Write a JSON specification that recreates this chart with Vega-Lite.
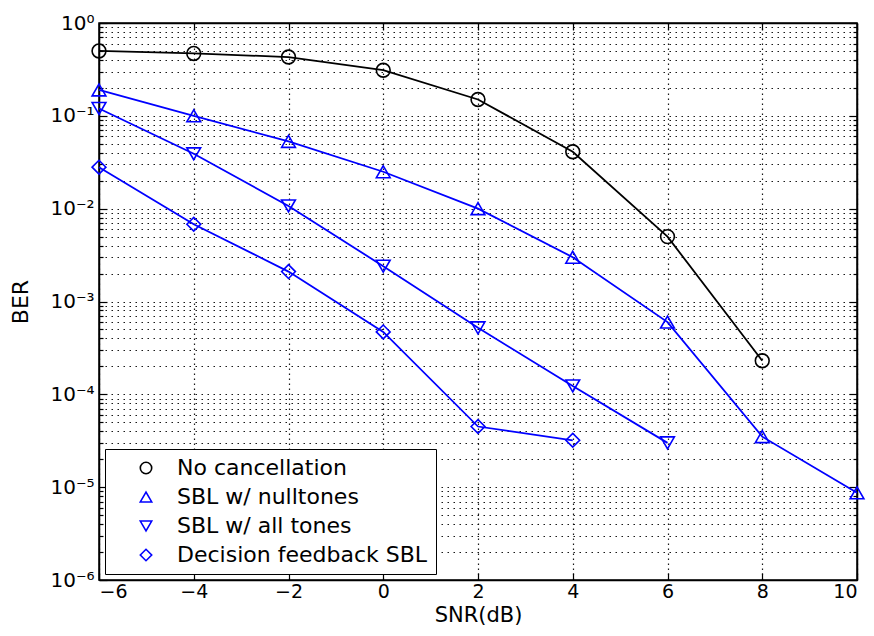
{
  "$schema": "https://vega.github.io/schema/vega-lite/v6.json",
  "autosize": "none",
  "width": 758,
  "height": 557,
  "padding": {"left": 99, "top": 23, "right": 17, "bottom": 56},
  "background": "white",
  "config": {
    "view": {"stroke": "black", "strokeWidth": 1.5},
    "font": "DejaVu Sans",
    "axis": {"domainColor": "black", "domainWidth": 1.5, "tickColor": "black", "tickWidth": 1.2, "labelColor": "black", "titleColor": "black", "labelFont": "DejaVu Sans", "titleFont": "DejaVu Sans", "labelFontSize": 20, "titleFontSize": 21, "titleFontWeight": "normal"}
  },
  "data": {"values": [
    {"snr": -6, "ber": 0.50, "series": "No cancellation"},
    {"snr": -4, "ber": 0.47, "series": "No cancellation"},
    {"snr": -2, "ber": 0.43, "series": "No cancellation"},
    {"snr": 0, "ber": 0.31, "series": "No cancellation"},
    {"snr": 2, "ber": 0.15, "series": "No cancellation"},
    {"snr": 4, "ber": 0.041, "series": "No cancellation"},
    {"snr": 6, "ber": 0.005, "series": "No cancellation"},
    {"snr": 8, "ber": 0.00023, "series": "No cancellation"},
    {"snr": -6, "ber": 0.19, "series": "SBL w/ nulltones"},
    {"snr": -4, "ber": 0.1, "series": "SBL w/ nulltones"},
    {"snr": -2, "ber": 0.053, "series": "SBL w/ nulltones"},
    {"snr": 0, "ber": 0.025, "series": "SBL w/ nulltones"},
    {"snr": 2, "ber": 0.01, "series": "SBL w/ nulltones"},
    {"snr": 4, "ber": 0.003, "series": "SBL w/ nulltones"},
    {"snr": 6, "ber": 0.0006, "series": "SBL w/ nulltones"},
    {"snr": 8, "ber": 0.000035, "series": "SBL w/ nulltones"},
    {"snr": 10, "ber": 0.0000087, "series": "SBL w/ nulltones"},
    {"snr": -6, "ber": 0.12, "series": "SBL w/ all tones"},
    {"snr": -4, "ber": 0.039, "series": "SBL w/ all tones"},
    {"snr": -2, "ber": 0.0107, "series": "SBL w/ all tones"},
    {"snr": 0, "ber": 0.0024, "series": "SBL w/ all tones"},
    {"snr": 2, "ber": 0.00052, "series": "SBL w/ all tones"},
    {"snr": 4, "ber": 0.000123, "series": "SBL w/ all tones"},
    {"snr": 6, "ber": 0.00003, "series": "SBL w/ all tones"},
    {"snr": -6, "ber": 0.028, "series": "Decision feedback SBL"},
    {"snr": -4, "ber": 0.0068, "series": "Decision feedback SBL"},
    {"snr": -2, "ber": 0.0021, "series": "Decision feedback SBL"},
    {"snr": 0, "ber": 0.00047, "series": "Decision feedback SBL"},
    {"snr": 2, "ber": 0.000045, "series": "Decision feedback SBL"},
    {"snr": 4, "ber": 0.000032, "series": "Decision feedback SBL"}
  ]},
  "resolve": {"axis": {"x": "independent", "y": "independent"}},
  "layer": [
    {
      "mark": {"type": "line", "strokeWidth": 1.8},
      "encoding": {
        "x": {"field": "snr", "type": "quantitative", "scale": {"domain": [-6, 10], "nice": false, "zero": false},
          "axis": {"values": [-6, -4, -2, 0, 2, 4, 6, 8, 10], "title": "SNR(dB)", "labelFontSize": 19, "grid": true, "gridColor": "black", "gridDash": [1.5, 3.5], "gridWidth": 1.2, "gridOpacity": 0.9, "tickSize": -7, "labelPadding": 9, "titlePadding": 3}},
        "y": {"field": "ber", "type": "quantitative", "scale": {"type": "log", "domain": [0.000001, 1], "nice": false},
          "axis": {"values": [0.000001,0.000002,0.000003,0.000004,0.000005,0.000006,0.000007,0.000008,0.000009,0.00001,0.00002,0.00003,0.00004,0.00005,0.00006,0.00007,0.00008,0.00009,0.0001,0.0002,0.0003,0.0004,0.0005,0.0006,0.0007,0.0008,0.0009,0.001,0.002,0.003,0.004,0.005,0.006,0.007,0.008,0.009,0.01,0.02,0.03,0.04,0.05,0.06,0.07,0.08,0.09,0.1,0.2,0.3,0.4,0.5,0.6,0.7,0.8,0.9,1],
            "title": "BER", "titleFontSize": 22, "grid": true, "gridColor": "black", "gridDash": [1.5, 4.5], "gridWidth": 1.2, "gridOpacity": 0.9,
            "tickSize": {"condition": {"test": "abs(log(datum.value)/LN10 - round(log(datum.value)/LN10)) < 0.001", "value": -8}, "value": -4},
            "labelExpr": "abs(log(datum.value)/LN10 - round(log(datum.value)/LN10)) < 0.001 ? ('10' + (round(log(datum.value)/LN10) == 0 ? '⁰' : '⁻' + ['','¹','²','³','⁴','⁵','⁶'][-round(log(datum.value)/LN10)])) : ''",
            "labelPadding": 13, "titlePadding": 17}},
        "color": {"field": "series", "type": "nominal",
          "scale": {"domain": ["No cancellation", "SBL w/ nulltones", "SBL w/ all tones", "Decision feedback SBL"], "range": ["#000000", "#0000ff", "#0000ff", "#0000ff"]},
          "legend": {"title": null, "orient": "bottom-left", "offset": 6, "strokeColor": "black", "fillColor": "white", "padding": 8,
            "labelFont": "DejaVu Sans", "labelFontSize": 22, "labelColor": "black", "labelLimit": 500, "symbolType": "circle", "symbolSize": 130, "symbolStrokeWidth": 1.6, "symbolFillColor": "transparent", "symbolOffset": 22, "rowPadding": 7, "labelOffset": 20}}
      }
    },
    {
      "mark": {"type": "point", "filled": false, "strokeWidth": 1.6, "size": 190, "opacity": 1},
      "encoding": {
        "x": {"field": "snr", "type": "quantitative", "axis": {"orient": "top", "labels": false, "title": null, "grid": false, "tickSize": -7, "values": [-6, -4, -2, 0, 2, 4, 6, 8, 10]}},
        "y": {"field": "ber", "type": "quantitative", "scale": {"type": "log"},
          "axis": {"orient": "right", "labels": false, "title": null, "grid": false,
            "values": [0.000001,0.000002,0.000003,0.000004,0.000005,0.000006,0.000007,0.000008,0.000009,0.00001,0.00002,0.00003,0.00004,0.00005,0.00006,0.00007,0.00008,0.00009,0.0001,0.0002,0.0003,0.0004,0.0005,0.0006,0.0007,0.0008,0.0009,0.001,0.002,0.003,0.004,0.005,0.006,0.007,0.008,0.009,0.01,0.02,0.03,0.04,0.05,0.06,0.07,0.08,0.09,0.1,0.2,0.3,0.4,0.5,0.6,0.7,0.8,0.9,1],
            "tickSize": {"condition": {"test": "abs(log(datum.value)/LN10 - round(log(datum.value)/LN10)) < 0.001", "value": -8}, "value": -4}}},
        "stroke": {"field": "series", "type": "nominal",
          "scale": {"domain": ["No cancellation", "SBL w/ nulltones", "SBL w/ all tones", "Decision feedback SBL"], "range": ["#000000", "#0000ff", "#0000ff", "#0000ff"]},
          "legend": null},
        "shape": {"field": "series", "type": "nominal",
          "scale": {"domain": ["No cancellation", "SBL w/ nulltones", "SBL w/ all tones", "Decision feedback SBL"], "range": ["circle", "triangle-up", "triangle-down", "diamond"]},
          "legend": null}
      }
    }
  ]
}
